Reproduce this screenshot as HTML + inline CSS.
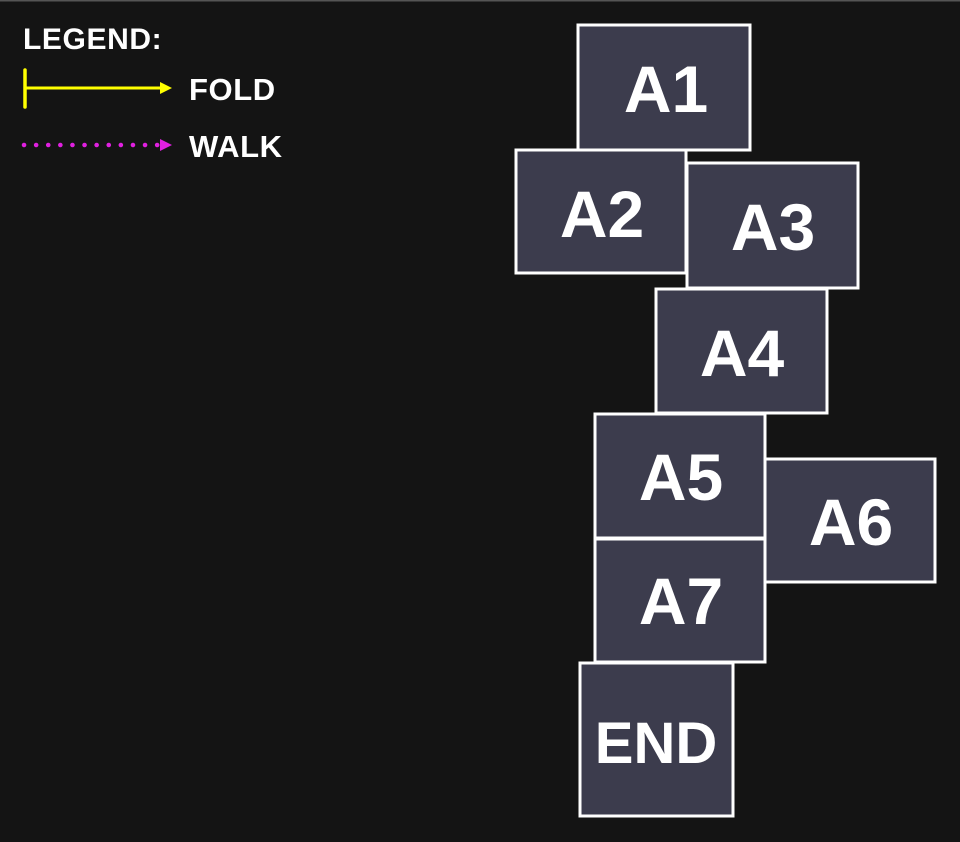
<!DOCTYPE html>
<html><head><style>
html,body{margin:0;padding:0;background:#141414;}
svg{display:block;}
text{font-family:"Liberation Sans",Arial,sans-serif;font-weight:bold;fill:#fff;}
</style></head><body>
<svg width="960" height="842" viewBox="0 0 960 842" xmlns="http://www.w3.org/2000/svg">
<rect x="0" y="0" width="960" height="842" fill="#141414"/>
<rect x="0" y="0" width="960" height="1.5" fill="#555"/>
<text x="23" y="49" font-size="30" letter-spacing="0.6">LEGEND:</text>
<line x1="25" y1="70" x2="25" y2="107" stroke="#ffff00" stroke-width="3.5" stroke-linecap="round"/>
<line x1="25" y1="88" x2="162" y2="88" stroke="#ffff00" stroke-width="3"/>
<polygon points="160,82 172,88 160,94" fill="#ffff00"/>
<text x="189" y="100" font-size="31" letter-spacing="0.6">FOLD</text>
<line x1="24" y1="145" x2="158" y2="145" stroke="#e020e0" stroke-width="4.5" stroke-dasharray="0.1 12" stroke-linecap="round"/>
<polygon points="160,139 172,145 160,151" fill="#e020e0"/>
<text x="189" y="157" font-size="31" letter-spacing="0.6">WALK</text>
<g stroke="#ffffff" stroke-width="3" fill="#3c3c4d">
<rect x="578" y="25" width="172" height="125"/>
<rect x="516" y="150" width="170" height="123"/>
<rect x="687" y="163" width="171" height="125"/>
<rect x="656" y="289" width="171" height="124"/>
<rect x="595" y="414" width="170" height="124"/>
<rect x="765" y="459" width="170" height="123"/>
<rect x="595" y="539" width="170" height="123"/>
<rect x="580" y="663" width="153" height="153"/>
</g>
<g font-size="66" text-anchor="middle">
<text x="666" y="112">A1</text>
<text x="602" y="237">A2</text>
<text x="773" y="250">A3</text>
<text x="742" y="376">A4</text>
<text x="681" y="500">A5</text>
<text x="851" y="545">A6</text>
<text x="681" y="624">A7</text>
<text x="656" y="763" font-size="58">END</text>
</g>
</svg>
</body></html>
